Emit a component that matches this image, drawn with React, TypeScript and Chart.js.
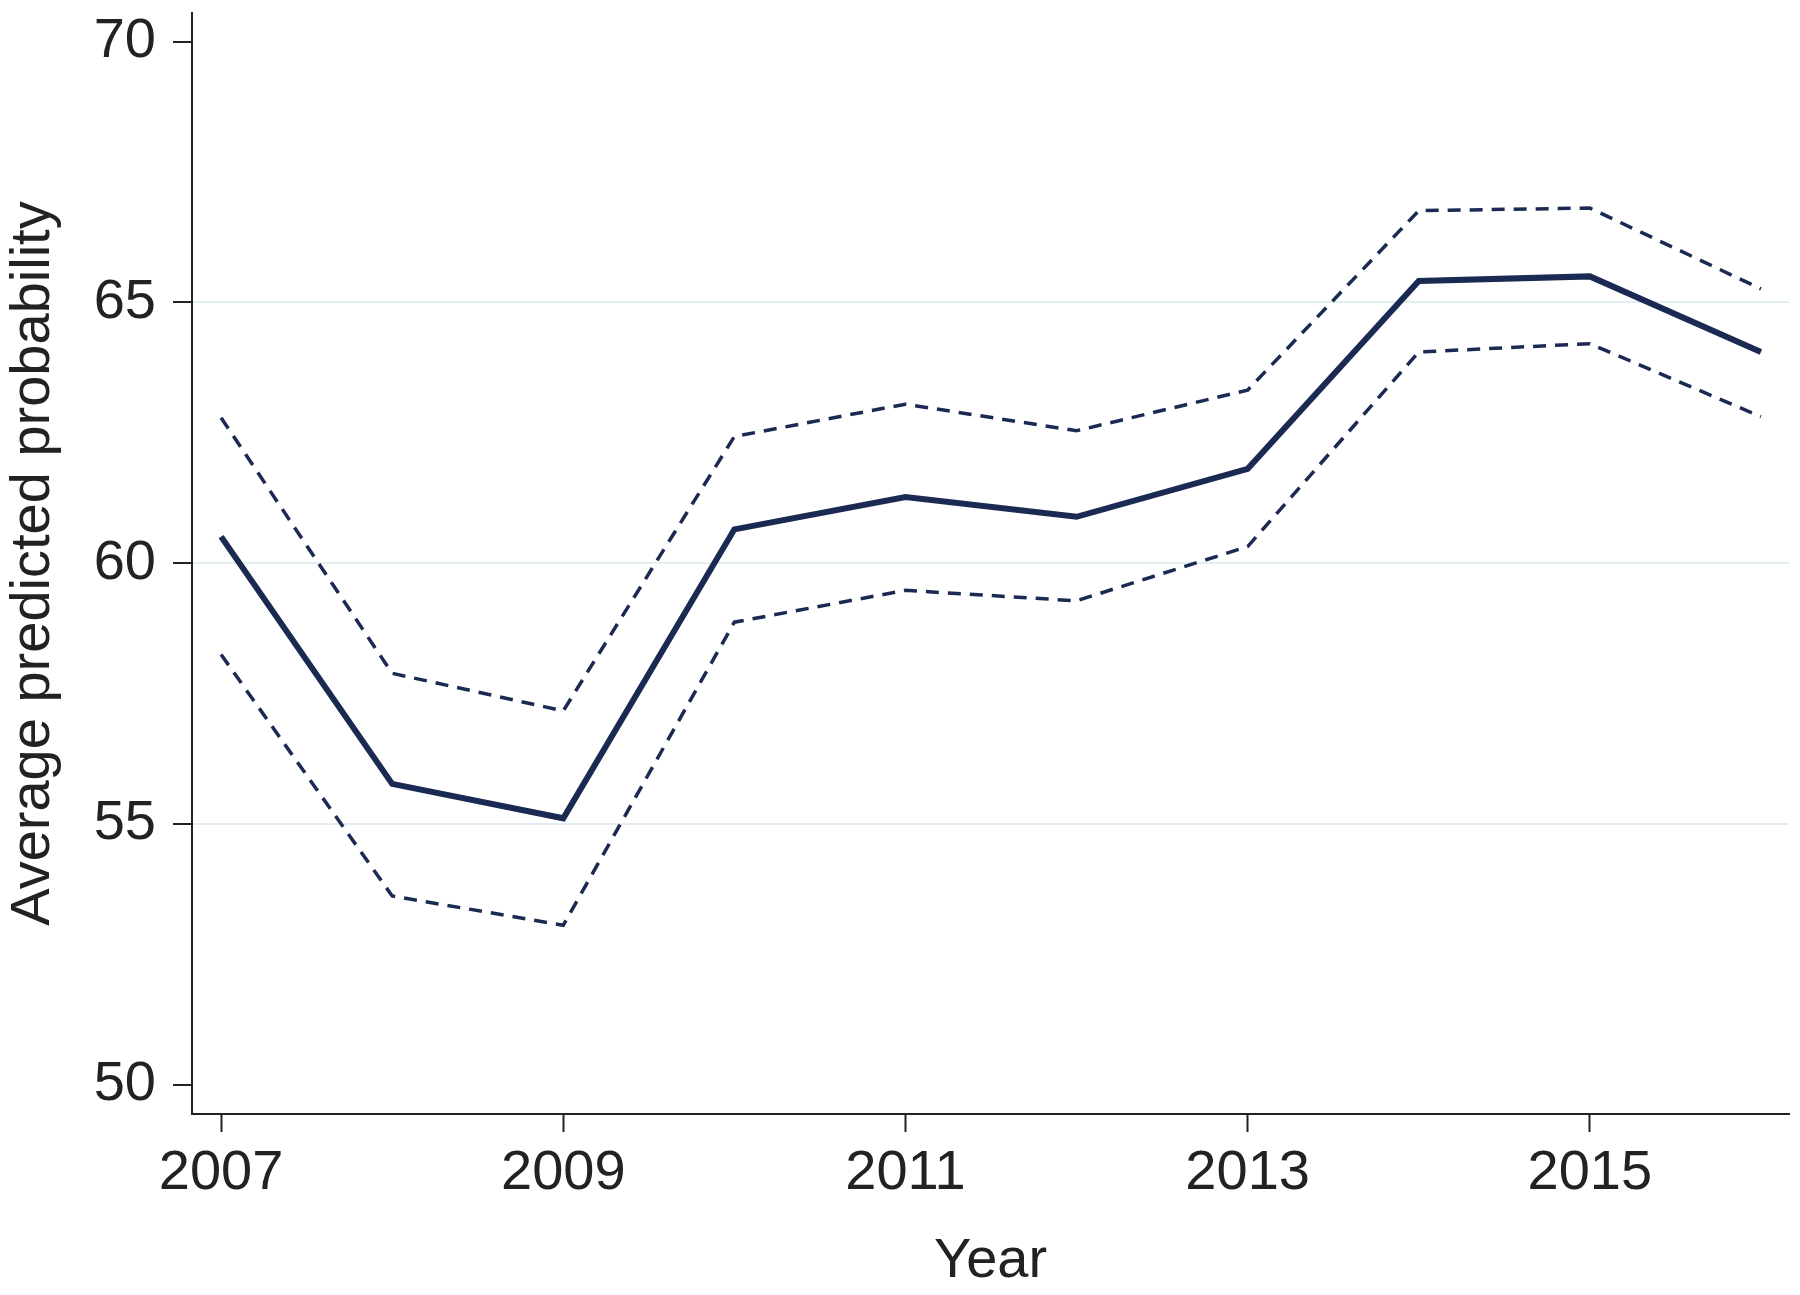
import React, { useEffect, useRef } from 'react';
import Chart from 'chart.js/auto';

const years = [2007, 2008, 2009, 2010, 2011, 2012, 2013, 2014, 2015, 2016];
const predicted = [60.51, 55.77, 55.11, 60.65, 61.27, 60.89, 61.81, 65.41, 65.5, 64.05];
const upperCI = [62.79, 57.89, 57.17, 62.43, 63.05, 62.54, 63.32, 66.76, 66.81, 65.26];
const lowerCI = [58.25, 53.62, 53.06, 58.87, 59.48, 59.28, 60.32, 64.05, 64.21, 62.81];

const xTicks = [2007, 2009, 2011, 2013, 2015];
const yTicks = [50, 55, 60, 65, 70];
const gridValues = [55, 60, 65];

const navy = '#1b2a52';
const ink = '#222222';
const font = { family: '"Liberation Sans", Arial, sans-serif', size: 56 };

const toPoints = (vals: number[]) => vals.map((v, i) => ({ x: years[i], y: v }));

const App = () => {
  const canvasDom = useRef<HTMLCanvasElement>(null);

  useEffect(() => {
    if (!canvasDom.current) {
      return;
    }
    const ctx = canvasDom.current;

    const myChart = new Chart(ctx, {
      type: 'line',
      data: {
        datasets: [
          {
            label: 'Average predicted probability',
            data: toPoints(predicted),
            borderColor: navy,
            borderWidth: 6,
          },
          {
            label: 'Upper 95% CI',
            data: toPoints(upperCI),
            borderColor: navy,
            borderWidth: 3.5,
            borderDash: [13, 9],
          },
          {
            label: 'Lower 95% CI',
            data: toPoints(lowerCI),
            borderColor: navy,
            borderWidth: 3.5,
            borderDash: [13, 9],
          },
        ],
      },
      options: {
        animation: false,
        responsive: false,
        devicePixelRatio: 1,
        layout: { padding: { top: 13, right: 11, left: 0, bottom: 0 } },
        elements: {
          point: { radius: 0 },
          line: { tension: 0, borderJoinStyle: 'miter' },
        },
        plugins: {
          legend: { display: false },
          tooltip: { enabled: false },
        },
        scales: {
          x: {
            type: 'linear',
            min: 2006.83,
            max: 2016.164,
            afterBuildTicks: (s: any) => {
              s.ticks = xTicks.map((v) => ({ value: v }));
            },
            afterFit: (s: any) => {
              s.height = 181;
              s.paddingLeft = 0;
              s.paddingRight = 0;
            },
            grid: {
              drawOnChartArea: false,
              tickLength: 18,
              tickWidth: 2,
              tickColor: ink,
            },
            border: { color: ink, width: 2 },
            ticks: {
              font,
              color: ink,
              padding: 8,
              maxRotation: 0,
              autoSkip: false,
              callback: (v: any) => String(v),
            },
            title: { display: true, text: 'Year', font, color: ink, padding: 0 },
          },
          y: {
            type: 'linear',
            min: 49.44,
            max: 70.55,
            afterBuildTicks: (s: any) => {
              s.ticks = yTicks.map((v) => ({ value: v }));
            },
            afterFit: (s: any) => {
              s.width = 192;
              s.paddingTop = 0;
              s.paddingBottom = 0;
            },
            grid: {
              color: (c: any) =>
                c.tick && gridValues.includes(c.tick.value) ? '#e3eef1' : 'rgba(0,0,0,0)',
              lineWidth: 2,
              tickLength: 19,
              tickWidth: 2,
              tickColor: ink,
            },
            border: { color: ink, width: 2 },
            ticks: {
              font,
              color: ink,
              padding: 17,
              autoSkip: false,
              callback: (v: any) => String(v),
            },
            title: {
              display: true,
              text: 'Average predicted probability',
              font,
              color: ink,
              padding: 0,
            },
          },
        },
      },
    });

    return () => {
      myChart.destroy();
    };
  }, []);

  return (
    <div style={{ position: 'absolute', left: 0, top: 0, width: 1800, height: 1295, background: '#fff' }}>
      <canvas ref={canvasDom} width={1800} height={1295} style={{ display: 'block' }}></canvas>
    </div>
  );
};

export default App;
